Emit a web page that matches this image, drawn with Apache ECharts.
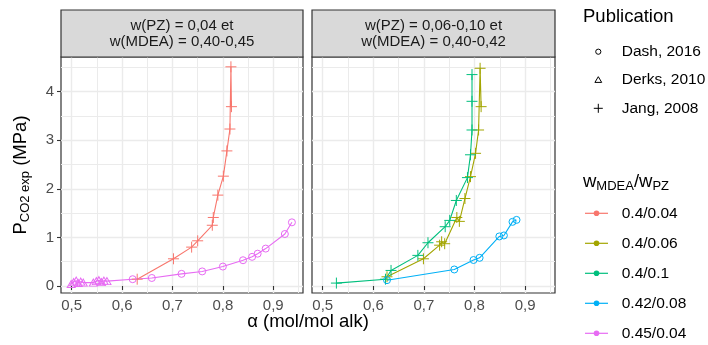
<!DOCTYPE html>
<html><head><meta charset="utf-8">
<script src="https://cdn.jsdelivr.net/npm/echarts@6/dist/echarts.min.js"></script>
<style>html,body{margin:0;padding:0;background:#fff}#c{width:708px;height:345px}</style>
</head><body><div id="c"></div>
<script>
// ---- axis ticks ----
const xTicks = [0.5, 0.6, 0.7, 0.8, 0.9];
const xTickLabels = ['0,5', '0,6', '0,7', '0,8', '0,9'];
const xMinor = [0.55, 0.65, 0.75, 0.85, 0.95];
const yTicks = [0, 1, 2, 3, 4];
const yTickLabels = ['0', '1', '2', '3', '4'];
const yMinor = [0.5, 1.5, 2.5, 3.5, 4.5];

// ---- facets / legends ----
const panelTitles = ['w(PZ) = 0,04 et\nw(MDEA) = 0,40-0,45', 'w(PZ) = 0,06-0,10 et\nw(MDEA) = 0,40-0,42'];
const publications = ['Dash, 2016', 'Derks, 2010', 'Jang, 2008'];
const groups = ['0.4/0.04', '0.4/0.06', '0.4/0.1', '0.42/0.08', '0.45/0.04'];
const groupPanel = [0, 1, 1, 1, 0];

// ---- data: alpha (mol/mol alk), P (MPa), publication ----
// 0.4/0.04
const alpha_0 = [0.630, 0.702, 0.738, 0.750, 0.779, 0.781, 0.790, 0.801, 0.808, 0.814, 0.817, 0.816];
const p_0     = [0.14, 0.56, 0.80, 0.93, 1.25, 1.41, 1.87, 2.26, 2.78, 3.23, 3.69, 4.51];
const pub_0   = ['Jang, 2008','Jang, 2008','Jang, 2008','Jang, 2008','Jang, 2008','Jang, 2008','Jang, 2008','Jang, 2008','Jang, 2008','Jang, 2008','Jang, 2008','Jang, 2008'];
// 0.4/0.06
const alpha_1 = [0.627, 0.699, 0.731, 0.735, 0.741, 0.765, 0.770, 0.781, 0.792, 0.802, 0.808, 0.811, 0.813];
const p_1     = [0.19, 0.56, 0.84, 0.91, 0.87, 1.41, 1.33, 1.80, 2.25, 2.73, 3.21, 4.48, 3.69];
const pub_1   = ['Jang, 2008','Jang, 2008','Jang, 2008','Jang, 2008','Jang, 2008','Jang, 2008','Jang, 2008','Jang, 2008','Jang, 2008','Jang, 2008','Jang, 2008','Jang, 2008','Jang, 2008'];
// 0.4/0.1
const alpha_2 = [0.527, 0.624, 0.635, 0.688, 0.708, 0.742, 0.751, 0.764, 0.786, 0.792, 0.795, 0.795, 0.795];
const p_2     = [0.06, 0.14, 0.32, 0.63, 0.89, 1.22, 1.35, 1.76, 2.23, 2.70, 3.21, 3.80, 4.35];
const pub_2   = ['Jang, 2008','Jang, 2008','Jang, 2008','Jang, 2008','Jang, 2008','Jang, 2008','Jang, 2008','Jang, 2008','Jang, 2008','Jang, 2008','Jang, 2008','Jang, 2008','Jang, 2008'];
// 0.42/0.08
const alpha_3 = [0.627, 0.760, 0.798, 0.810, 0.849, 0.858, 0.875, 0.883];
const p_3     = [0.12, 0.34, 0.535, 0.58, 1.02, 1.04, 1.32, 1.36];
const pub_3   = ['Dash, 2016','Dash, 2016','Dash, 2016','Dash, 2016','Dash, 2016','Dash, 2016','Dash, 2016','Dash, 2016'];
// 0.45/0.04
const alpha_4 = [0.499, 0.504, 0.509, 0.513, 0.518, 0.523, 0.543, 0.549, 0.554, 0.559, 0.564, 0.570,
                 0.621, 0.659, 0.718, 0.759, 0.800, 0.840, 0.858, 0.869, 0.885, 0.923, 0.937];
const p_4     = [0.04, 0.08, 0.11, 0.06, 0.09, 0.07, 0.07, 0.10, 0.12, 0.08, 0.11, 0.10,
                 0.14, 0.165, 0.25, 0.30, 0.40, 0.53, 0.60, 0.665, 0.77, 1.07, 1.31];
const pub_4   = ['Derks, 2010','Derks, 2010','Derks, 2010','Derks, 2010','Derks, 2010','Derks, 2010','Derks, 2010','Derks, 2010','Derks, 2010','Derks, 2010','Derks, 2010','Derks, 2010',
                 'Dash, 2016','Dash, 2016','Dash, 2016','Dash, 2016','Dash, 2016','Dash, 2016','Dash, 2016','Dash, 2016','Dash, 2016','Dash, 2016','Dash, 2016'];

const groupAlpha = [alpha_0, alpha_1, alpha_2, alpha_3, alpha_4];
const groupP = [p_0, p_1, p_2, p_3, p_4];
const groupPub = [pub_0, pub_1, pub_2, pub_3, pub_4];

// ---- styling ----
const colors = ['#F8766D', '#A3A500', '#00BF7D', '#00B0F6', '#E76BF3'];
const FONT = 'Liberation Sans, Arial, Helvetica, sans-serif';
const X_MIN = 0.4788, X_MAX = 0.959;
const Y_MIN = -0.144, Y_MAX = 4.712;
const PLUS = 'path://M0,5L10,5M5,0L5,10';
const symbolFor = {'Dash, 2016': 'circle', 'Derks, 2010': 'triangle', 'Jang, 2008': PLUS};
const sizeFor = {'Dash, 2016': 7, 'Derks, 2010': [8, 7], 'Jang, 2008': 11};

const grids = [
  {left: 61, top: 57, width: 242, height: 236},
  {left: 312, top: 57, width: 243, height: 236}
];

const chart = echarts.init(document.getElementById('c'), null, {renderer: 'canvas'});

const xAxes = [], yAxes = [];
grids.forEach((g, i) => {
  xAxes.push({
    type: 'value', gridIndex: i, min: X_MIN, max: X_MAX,
    axisLine: {show: false},
    axisTick: {show: true, customValues: xTicks, length: 4, lineStyle: {color: '#333333', width: 1.1}},
    axisLabel: {show: true, customValues: xTicks, margin: 5, color: '#4D4D4D', fontSize: 15, fontFamily: FONT,
      formatter: v => xTickLabels[xTicks.indexOf(v)] !== undefined ? xTickLabels[xTicks.indexOf(v)] : String(v).replace('.', ',')},
    splitLine: {show: true, lineStyle: {color: '#EBEBEB', width: 1.4}}
  });
  yAxes.push({
    type: 'value', gridIndex: i, min: Y_MIN, max: Y_MAX,
    axisLine: {show: false},
    axisTick: {show: i === 0, customValues: yTicks, length: 4, lineStyle: {color: '#333333', width: 1.1}},
    axisLabel: {show: i === 0, customValues: yTicks, margin: 7, color: '#4D4D4D', fontSize: 15, fontFamily: FONT,
      formatter: v => yTickLabels[yTicks.indexOf(v)] !== undefined ? yTickLabels[yTicks.indexOf(v)] : String(v)},
    splitLine: {show: true, lineStyle: {color: '#EBEBEB', width: 1.4}}
  });
});
grids.forEach((g, i) => {
  xAxes.push({
    type: 'value', gridIndex: i, min: X_MIN, max: X_MAX,
    axisLine: {show: false}, axisLabel: {show: false, customValues: xMinor},
    axisTick: {show: false, customValues: xMinor},
    splitLine: {show: true, lineStyle: {color: '#EBEBEB', width: 1}}
  });
  yAxes.push({
    type: 'value', gridIndex: i, min: Y_MIN, max: Y_MAX,
    axisLine: {show: false}, axisLabel: {show: false, customValues: yMinor},
    axisTick: {show: false, customValues: yMinor},
    splitLine: {show: true, lineStyle: {color: '#EBEBEB', width: 1}}
  });
});

const series = groups.map((name, gi) => {
  const a = groupAlpha[gi], p = groupP[gi], pub = groupPub[gi];
  const order = a.map((_, i) => i).sort((i, j) => a[i] - a[j]);
  const c = colors[gi];
  const panel = groupPanel[gi];
  return {
    type: 'line', name: name, xAxisIndex: panel, yAxisIndex: panel,
    color: c, showSymbol: true, showAllSymbol: true, silent: true, animation: false, z: 3,
    lineStyle: {color: c, width: 1.1},
    emphasis: {disabled: true},
    data: order.map(i => ({
      value: [a[i], p[i]],
      symbol: symbolFor[pub[i]],
      symbolSize: sizeFor[pub[i]],
      itemStyle: {color: 'rgba(0,0,0,0)', borderColor: c, borderWidth: 1}
    }))
  };
});

// ---- graphics: strips, titles, legends ----
const graphics = [];
grids.forEach((g, i) => {
  graphics.push({type: 'rect', silent: true, z: 10,
    shape: {x: g.left, y: 10, width: g.width, height: 47},
    style: {fill: '#D9D9D9', stroke: '#333333', lineWidth: 1.2}});
  graphics.push({type: 'text', silent: true, z: 11, x: g.left + g.width / 2, y: 33.5,
    style: {text: panelTitles[i], fill: '#1A1A1A', fontSize: 15, fontFamily: FONT, lineHeight: 16,
      align: 'center', verticalAlign: 'middle'}});
});
// x title
graphics.push({type: 'text', silent: true, x: 308, y: 322,
  style: {text: 'α (mol/mol alk)', fill: '#000', fontSize: 18.5, fontFamily: FONT, align: 'center', verticalAlign: 'middle'}});
// y title (rotated, with subscript)
graphics.push({type: 'text', silent: true, x: 21, y: 175, rotation: Math.PI / 2,
  style: {text: '{n|P}{s|CO2 exp}{n| (MPa)}', align: 'center', verticalAlign: 'middle',
    rich: {
      n: {fontSize: 18.5, fontFamily: FONT, fill: '#000', lineHeight: 22, verticalAlign: 'middle'},
      s: {fontSize: 13, fontFamily: FONT, fill: '#000', lineHeight: 14, verticalAlign: 'bottom'}
    }}});
// Publication legend
graphics.push({type: 'text', silent: true, x: 583, y: 17,
  style: {text: 'Publication', fill: '#000', fontSize: 18.5, fontFamily: FONT, align: 'left', verticalAlign: 'middle'}});
const pubY = [51.7, 80, 108.3];
const LX = 598.3;
graphics.push({type: 'circle', silent: true, shape: {cx: LX, cy: pubY[0], r: 2.6}, style: {fill: 'none', stroke: '#000', lineWidth: 1}});
graphics.push({type: 'polygon', silent: true, shape: {points: [[LX, pubY[1] - 3.3], [LX - 3.4, pubY[1] + 2.4], [LX + 3.4, pubY[1] + 2.4]]}, style: {fill: 'none', stroke: '#000', lineWidth: 1}});
graphics.push({type: 'line', silent: true, shape: {x1: LX - 4.5, y1: pubY[2], x2: LX + 4.5, y2: pubY[2]}, style: {stroke: '#000', lineWidth: 1}});
graphics.push({type: 'line', silent: true, shape: {x1: LX, y1: pubY[2] - 4.5, x2: LX, y2: pubY[2] + 4.5}, style: {stroke: '#000', lineWidth: 1}});
publications.forEach((t, i) => {
  graphics.push({type: 'text', silent: true, x: 621.7, y: pubY[i],
    style: {text: t, fill: '#000', fontSize: 15.5, fontFamily: FONT, align: 'left', verticalAlign: 'middle'}});
});
// colour legend
graphics.push({type: 'text', silent: true, x: 583, y: 182,
  style: {text: '{n|w}{s|MDEA}{n|/}{n|w}{s|PZ}', align: 'left', verticalAlign: 'middle',
    rich: {
      n: {fontSize: 18.5, fontFamily: FONT, fill: '#000', lineHeight: 22, verticalAlign: 'middle'},
      s: {fontSize: 13, fontFamily: FONT, fill: '#000', lineHeight: 14, verticalAlign: 'bottom'}
    }}});
const grpY = [213.3, 243.3, 273.3, 303.3, 333.3];
groups.forEach((t, i) => {
  graphics.push({type: 'line', silent: true, shape: {x1: 585, y1: grpY[i], x2: 608, y2: grpY[i]}, style: {stroke: colors[i], lineWidth: 1.2}});
  graphics.push({type: 'circle', silent: true, shape: {cx: 596.5, cy: grpY[i], r: 2.8}, style: {fill: colors[i]}});
  graphics.push({type: 'text', silent: true, x: 621.7, y: grpY[i],
    style: {text: t, fill: '#000', fontSize: 15.5, fontFamily: FONT, align: 'left', verticalAlign: 'middle'}});
});

chart.setOption({
  animation: false,
  backgroundColor: '#ffffff',
  grid: grids.map(g => Object.assign({show: true, borderColor: '#333333', borderWidth: 1.2, backgroundColor: 'rgba(0,0,0,0)', containLabel: false}, g)),
  xAxis: xAxes,
  yAxis: yAxes,
  series: series,
  graphic: {elements: graphics}
});
</script>
</body></html>
